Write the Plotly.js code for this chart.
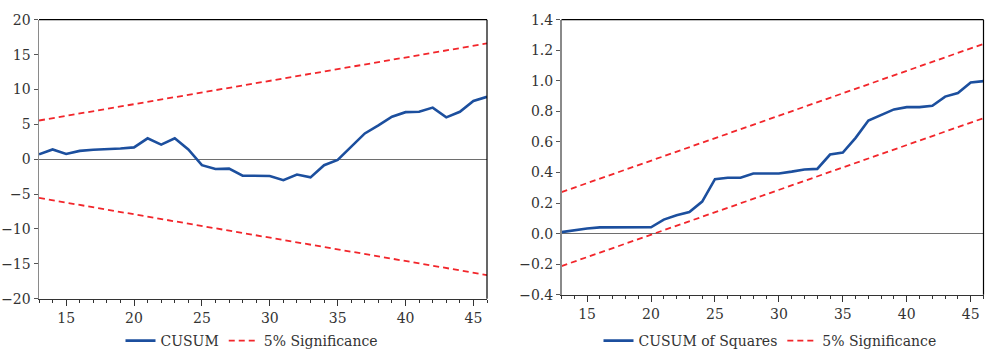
<!DOCTYPE html>
<html>
<head>
<meta charset="utf-8">
<script src="https://cdn.plot.ly/plotly-3.0.1.min.js"></script>
<style>html,body{margin:0;padding:0;background:#fff;}#chart{width:986px;height:357px;}</style>
</head>
<body>
<div id="chart"></div>
<script>
// Observation index
const periods = [13,14,15,16,17,18,19,20,21,22,23,24,25,26,27,28,29,30,31,32,33,34,35,36,37,38,39,40,41,42,43,44,45,46];

// CUSUM statistic
const cusum = [0.7,1.4,0.75,1.2,1.35,1.4,1.55,1.7,3.0,2.1,3.0,1.4,-0.85,-1.4,-1.35,-2.35,-2.35,-2.4,-3.0,-2.2,-2.6,-0.85,-0.1,1.75,3.7,4.85,6.1,6.75,6.8,7.4,6.0,6.8,8.35,8.95];

// CUSUM of squares statistic
const cusumSq = [0.01,0.024,0.034,0.041,0.041,0.041,0.041,0.042,0.092,0.12,0.142,0.21,0.357,0.366,0.366,0.394,0.394,0.394,0.406,0.42,0.424,0.518,0.531,0.627,0.74,0.777,0.813,0.828,0.828,0.837,0.897,0.92,0.989,0.998];

// 5% significance bands (straight lines, end points)
const bandX = [13, 46];
const cusumUpper = [5.55, 16.6];
const cusumLower = [-5.55, -16.6];
const sqUpper = [0.272, 1.242];
const sqLower = [-0.212, 0.756];

// Tick labels
const xTicks = [15,20,25,30,35,40,45];
const yTicksL = [-20,-15,-10,-5,0,5,10,15,20];
const yTicksR = [-0.4,-0.2,0.0,0.2,0.4,0.6,0.8,1.0,1.2,1.4];
const yTickTextR = ['-0.4','-0.2','0.0','0.2','0.4','0.6','0.8','1.0','1.2','1.4'].map(s=>s.replace('-','\u2212'));

const BLUE = '#1c4f9e';
const RED = '#f2262b';
const FONT = '"DejaVu Serif", serif';
const FS = 14;

const traces = [
  {x: periods, y: cusum, type:'scatter', mode:'lines', name:'CUSUM', xaxis:'x', yaxis:'y',
   line:{color:BLUE, width:2.6}, legend:'legend'},
  {x: bandX, y: cusumUpper, type:'scatter', mode:'lines', name:'5% Significance', xaxis:'x', yaxis:'y',
   line:{color:RED, width:1.8, dash:'6px,4px'}, legend:'legend', legendgroup:'s1'},
  {x: bandX, y: cusumLower, type:'scatter', mode:'lines', name:'5% Significance', xaxis:'x', yaxis:'y',
   line:{color:RED, width:1.8, dash:'6px,4px'}, legend:'legend', legendgroup:'s1', showlegend:false},
  {x: periods, y: cusumSq, type:'scatter', mode:'lines', name:'CUSUM of Squares', xaxis:'x2', yaxis:'y2',
   line:{color:BLUE, width:2.6}, legend:'legend2'},
  {x: bandX, y: sqUpper, type:'scatter', mode:'lines', name:'5% Significance', xaxis:'x2', yaxis:'y2',
   line:{color:RED, width:1.8, dash:'6px,4px'}, legend:'legend2', legendgroup:'s2'},
  {x: bandX, y: sqLower, type:'scatter', mode:'lines', name:'5% Significance', xaxis:'x2', yaxis:'y2',
   line:{color:RED, width:1.8, dash:'6px,4px'}, legend:'legend2', legendgroup:'s2', showlegend:false}
];

function xAxis(domain, anchor){
  return {domain: domain, anchor: anchor, range:[13,46], tickmode:'array', tickvals: xTicks,
    showgrid:false, zeroline:false, showline:true, linecolor:'#333', linewidth:1,
    ticks:'outside', ticklen:6, tickcolor:'#333', tickwidth:1,
    minor:{dtick:1, tick0:13, ticks:'outside', ticklen:3, tickcolor:'#333', showgrid:false},
    tickfont:{family:FONT, size:FS, color:'#333'}, fixedrange:true, automargin:false};
}
function yAxis(domain, anchor, range, vals, text){
  const a = {domain: domain, anchor: anchor, range: range, tickmode:'array', tickvals: vals,
    showgrid:false, zeroline:true, zerolinecolor:'#6e6e6e', zerolinewidth:1,
    showline:true, linecolor:'#8a8a8a', linewidth:1.5,
    ticks:'outside', ticklen:4, tickcolor:'#555', tickwidth:1,
    tickfont:{family:FONT, size:FS, color:'#333'}, fixedrange:true, automargin:false};
  if (text) a.ticktext = text;
  return a;
}

const layout = {
  width: 986, height: 357,
  margin:{l:0, r:0, t:0, b:0},
  paper_bgcolor:'#fff', plot_bgcolor:'#fff',
  font:{family:FONT, size:FS, color:'#333'},
  xaxis: xAxis([39/986, 487/986], 'y'),
  yaxis: yAxis([1-303/357, 1-20/357], 'x', [-20,20], yTicksL),
  xaxis2: xAxis([561.5/986, 983.5/986], 'y2'),
  yaxis2: yAxis([1-299/357, 1-20/357], 'x2', [-0.4,1.4], yTicksR, yTickTextR),
  legend:{orientation:'h', x:252/986, xanchor:'center', y:1-346/357, yanchor:'middle',
    font:{family:FONT, size:FS, color:'#333'}, bgcolor:'rgba(0,0,0,0)', itemwidth:30},
  legend2:{orientation:'h', x:770/986, xanchor:'center', y:1-346/357, yanchor:'middle',
    font:{family:FONT, size:FS, color:'#333'}, bgcolor:'rgba(0,0,0,0)', itemwidth:30},
  shapes:[
    {type:'line', xref:'x domain', yref:'y domain', x0:0, x1:1, y0:1, y1:1, line:{color:'#000', width:1.2}},
    {type:'line', xref:'x domain', yref:'y domain', x0:1, x1:1, y0:0, y1:1, line:{color:'#000', width:1.2}},
    {type:'line', xref:'x2 domain', yref:'y2 domain', x0:0, x1:1, y0:1, y1:1, line:{color:'#000', width:1.2}},
    {type:'line', xref:'x2 domain', yref:'y2 domain', x0:1, x1:1, y0:0, y1:1, line:{color:'#000', width:1.2}}
  ],
  showlegend:true
};

Plotly.newPlot('chart', traces, layout, {staticPlot:true, displayModeBar:false});
</script>
</body>
</html>
